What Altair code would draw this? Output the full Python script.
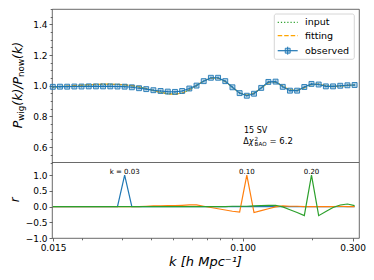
import altair as alt
import pandas as pd

# ---- data ----
k = [0.01497, 0.01608, 0.01728, 0.01857, 0.01995, 0.02144, 0.02304, 0.02475, 0.02660, 0.02858,
     0.03071, 0.03300, 0.03546, 0.03810, 0.04094, 0.04399, 0.04727, 0.05079, 0.05458, 0.05864,
     0.06301, 0.06771, 0.07275, 0.07817, 0.08400, 0.09026, 0.09698, 0.10421, 0.11197, 0.12032,
     0.12928, 0.13892, 0.14927, 0.16039, 0.17234, 0.18518, 0.19898, 0.21380, 0.22973, 0.24685,
     0.26525, 0.28501, 0.30624]

observed = [0.993, 0.994, 0.994, 0.995, 0.995, 0.996, 0.996, 0.996, 0.996, 0.995,
            0.994, 0.990, 0.984, 0.978, 0.971, 0.966, 0.962, 0.960, 0.966, 0.982,
            1.001, 1.030, 1.052, 1.052, 1.030, 0.990, 0.952, 0.935, 0.948, 0.986,
            1.025, 1.027, 0.993, 0.968, 0.968, 0.992, 1.012, 1.008, 0.996, 0.996,
            1.000, 1.003, 1.005]

fitting = [0.992, 0.995, 0.998, 1.001, 1.004, 1.007, 1.009, 1.010, 1.010, 1.009,
           1.006, 1.001, 0.993, 0.982, 0.969, 0.957, 0.948, 0.945, 0.952, 0.972,
           1.002, 1.031, 1.050, 1.050, 1.028, 0.990, 0.953, 0.937, 0.950, 0.985,
           1.020, 1.025, 0.998, 0.972, 0.968, 0.988, 1.008, 1.010, 1.000, 0.994,
           0.998, 1.003, 1.005]

input_ = [0.991, 0.994, 0.997, 1.000, 1.003, 1.006, 1.008, 1.009, 1.009, 1.008,
          1.005, 1.000, 0.992, 0.981, 0.968, 0.956, 0.948, 0.946, 0.953, 0.973,
          1.002, 1.030, 1.049, 1.049, 1.027, 0.990, 0.954, 0.938, 0.951, 0.985,
          1.019, 1.024, 0.998, 0.973, 0.969, 0.988, 1.007, 1.009, 1.000, 0.995,
          0.998, 1.002, 1.004]

err = [0.007, 0.007, 0.007, 0.007, 0.007, 0.007, 0.007, 0.007, 0.007, 0.007,
       0.007, 0.007, 0.007, 0.007, 0.007, 0.007, 0.007, 0.007, 0.007, 0.007,
       0.007, 0.007, 0.007, 0.007, 0.007, 0.007, 0.007, 0.007, 0.007, 0.007,
       0.007, 0.007, 0.007, 0.007, 0.007, 0.007, 0.007, 0.007, 0.007, 0.007,
       0.007, 0.007, 0.007]

r_003 = [0.0, 0.0, 0.0, 0.0, 0.0, 0.0, 0.0, 0.0, 0.0, 0.0,
         1.0, 0.0, 0.0, 0.0, 0.0, 0.0, 0.0, 0.0, 0.0, 0.0,
         0.0, 0.0, 0.0, 0.0, 0.0, 0.0, 0.0, 0.0, 0.0, 0.0,
         0.0, 0.0, 0.0, 0.0, 0.0, 0.0, 0.0, 0.0, 0.0, 0.0,
         0.0, 0.0, 0.0]

r_010 = [0.0, 0.0, 0.0, 0.0, 0.0, 0.0, 0.0, 0.0, 0.0, 0.0,
         0.0, 0.0, 0.0, 0.01, 0.02, 0.02, 0.03, 0.03, 0.04, 0.05,
         0.05, 0.01, -0.03, -0.07, -0.11, -0.15, -0.18, 1.0, -0.19, -0.13,
         -0.07, -0.01, 0.02, 0.01, 0.01, 0.0, 0.0, 0.0, 0.0, 0.0,
         0.01, 0.0, 0.0]

r_020 = [0.0, 0.0, 0.0, 0.0, 0.0, 0.0, 0.0, 0.0, 0.0, 0.0,
         0.0, 0.0, 0.0, 0.0, 0.0, 0.0, 0.0, 0.0, 0.0, 0.0,
         0.0, 0.0, 0.0, 0.0, 0.0, 0.01, 0.01, 0.01, 0.02, 0.03,
         0.04, 0.04, -0.01, -0.10, -0.19, -0.29, 1.0, -0.29, -0.16, -0.03,
         0.05, 0.08, 0.03]

ann_k = [0.0307, 0.1042, 0.1990]
ann_r = [1.03, 1.03, 1.03]
ann_text = ["k = 0.03", "0.10", "0.20"]

x_major = [0.015, 0.1, 0.3]
x_minor = [0.02, 0.03, 0.04, 0.05, 0.06, 0.07, 0.08, 0.09, 0.2]
ytop_major = [0.6, 0.8, 1.0, 1.2, 1.4]
ytop_minor = [0.5, 0.55, 0.65, 0.7, 0.75, 0.85, 0.9, 0.95, 1.05, 1.1, 1.15, 1.25, 1.3, 1.35, 1.45, 1.5]
ybot_major = [-1.0, -0.5, 0.0, 0.5, 1.0]

df = pd.DataFrame({"k": k, "obs": observed, "fit": fitting, "inp": input_, "err": err,
                   "r03": r_003, "r10": r_010, "r20": r_020})
df["lo"] = df["obs"] - df["err"]
df["hi"] = df["obs"] + df["err"]
ann = pd.DataFrame({"k": ann_k, "r": ann_r, "t": ann_text})
one = pd.DataFrame({"d": [0]})

W, H = 307, 229
SPLIT = 153.5
FONT = "DejaVu Sans"
BLUE, ORANGE, GREEN = "#1f77b4", "#ff7f0e", "#2ca02c"

xs = alt.Scale(type="log", domain=[0.01485, 0.32], nice=False)
X0 = alt.X("k:Q", scale=xs, axis=None)
ytop = alt.Scale(domain=[0.5, 1.5], range=[SPLIT, 0], nice=False, zero=False)
ybot = alt.Scale(domain=[-1.0, 1.4], range=[H, SPLIT], nice=False, zero=False)

base = alt.Chart(df)

# ---- top panel ----
inp_line = base.mark_line(color=GREEN, strokeWidth=1.2, strokeDash=[1.2, 2]).encode(
    x=X0,
    y=alt.Y("inp:Q", scale=ytop, title=None,
            axis=alt.Axis(orient="left", values=ytop_major, format=".1f", tickSize=3,
                          labelPadding=2, labelFontSize=9, labelOverlap=False,
                          domain=False, grid=False, title=None)))
fit_line = base.mark_line(color="#FFA500", strokeWidth=1.2, strokeDash=[4.5, 2]).encode(
    x=X0,
    y=alt.Y("fit:Q", scale=ytop, title=None,
            axis=alt.Axis(orient="left", values=ytop_minor, labels=False, tickSize=1.8,
                          domain=False, grid=False, title=None)))
err_rule = base.mark_rule(color=BLUE, strokeWidth=0.8).encode(
    x=X0, y=alt.Y("lo:Q", scale=ytop, axis=None), y2="hi:Q")
obs_line = base.mark_line(color=BLUE, strokeWidth=1.1).encode(
    x=X0, y=alt.Y("obs:Q", scale=ytop, axis=None))
obs_pts = base.mark_point(shape="square", size=24, filled=True, fill=BLUE, fillOpacity=0.3,
                          stroke=BLUE, strokeWidth=0.9, opacity=1).encode(
    x=X0, y=alt.Y("obs:Q", scale=ytop, axis=None))

top = alt.layer(inp_line, fit_line, err_rule, obs_line, obs_pts).resolve_axis(
    x="independent", y="independent")

# ---- bottom panel ----
b_blue = base.mark_line(color=BLUE, strokeWidth=1.2).encode(
    x=alt.X("k:Q", scale=xs, title=None,
            axis=alt.Axis(orient="bottom", values=x_major, format=".3f", tickSize=3,
                          labelPadding=2, labelFontSize=9, labelFlush=False,
                          labelOverlap=False, domain=False, grid=False, title=None)),
    y=alt.Y("r03:Q", scale=ybot, title=None,
            axis=alt.Axis(orient="left", values=ybot_major, tickSize=3, labelPadding=2,
                          labelFontSize=9, labelOverlap=False,
                          labelExpr="replace(format(datum.value, '.1f'), '-', '\u2212')",
                          domain=False, grid=False, title=None)))
b_orange = base.mark_line(color=ORANGE, strokeWidth=1.2).encode(
    x=alt.X("k:Q", scale=xs, title=None,
            axis=alt.Axis(orient="bottom", values=x_minor, labels=False, tickSize=1.8,
                          domain=False, grid=False, title=None)),
    y=alt.Y("r10:Q", scale=ybot, axis=None))
b_green = base.mark_line(color=GREEN, strokeWidth=1.2).encode(
    x=X0, y=alt.Y("r20:Q", scale=ybot, axis=None))
b_text = alt.Chart(ann).mark_text(font=FONT, fontSize=7, baseline="alphabetic",
                                  align="center", color="black").encode(
    x=alt.X("k:Q", scale=xs, axis=None), y=alt.Y("r:Q", scale=ybot, axis=None), text="t:N")

bottom = alt.layer(b_blue, b_orange, b_green, b_text).resolve_axis(
    x="independent", y="independent")


# ---- decorations (labels, legend, divider) ----
def txt(s, x, y, size, **kw):
    return alt.Chart(one).mark_text(font=FONT, fontSize=size, color="black", **kw).encode(
        x=alt.value(x), y=alt.value(y), text=alt.value(s))


divider = alt.Chart(one).mark_rule(color="#444", strokeWidth=0.8).encode(
    x=alt.value(0), x2=alt.value(W), y=alt.value(SPLIT))

# y label of top panel: P_wig(k)/P_now(k), rotated
yl = [
    txt("P", -30.3, 119.3, 12.5, angle=270, align="left", baseline="alphabetic", fontStyle="italic"),
    txt("wig", -27.6, 111.8, 8.75, angle=270, align="left", baseline="alphabetic"),
    txt("(k)/", -30.3, 96.7, 12.5, angle=270, align="left", baseline="alphabetic", fontStyle="italic"),
    txt("P", -30.3, 75.5, 12.5, angle=270, align="left", baseline="alphabetic", fontStyle="italic"),
    txt("now", -27.6, 68.0, 8.75, angle=270, align="left", baseline="alphabetic"),
    txt("(k)", -30.3, 49.9, 12.5, angle=270, align="left", baseline="alphabetic", fontStyle="italic"),
]
rl = txt("r", -33.5, 190.7, 12, angle=270, align="center", baseline="alphabetic", fontStyle="italic")
xl = txt("k [h Mpc\u207b\u00b9]", W / 2, 256.5, 13, align="center", baseline="alphabetic",
         fontStyle="italic")

# annotation
a1 = txt("15 SV", 192, 124.3, 8, align="left", baseline="alphabetic")
a2 = txt("\u0394", 191.3, 135.3, 8, align="left", baseline="alphabetic")
a3 = txt("\u03c7", 196.8, 135.3, 8, align="left", baseline="alphabetic", fontStyle="italic")
a4 = txt("2", 202.6, 131.5, 5.6, align="left", baseline="alphabetic")
a5 = txt("BAO", 202.6, 137.0, 5.6, align="left", baseline="alphabetic")
a6 = txt("= 6.2", 217.5, 135.3, 8.5, align="left", baseline="alphabetic")

# legend
leg_box = alt.Chart(one).mark_rect(fill="white", fillOpacity=0.8, stroke="#cccccc",
                                   strokeWidth=0.8, cornerRadius=2).encode(
    x=alt.value(222.3), x2=alt.value(302.3), y=alt.value(5), y2=alt.value(50.3))
hx1, hx2, hxc = 225.7, 245.7, 235.7
rows = [13.3, 26.7, 41.7]
leg_inp = alt.Chart(one).mark_rule(color=GREEN, strokeWidth=1.2, strokeDash=[1.2, 2]).encode(
    x=alt.value(hx1), x2=alt.value(hx2), y=alt.value(rows[0]))
leg_fit = alt.Chart(one).mark_rule(color="#FFA500", strokeWidth=1.2, strokeDash=[4.5, 2]).encode(
    x=alt.value(hx1), x2=alt.value(hx2), y=alt.value(rows[1]))
leg_obs = alt.Chart(one).mark_rule(color=BLUE, strokeWidth=1.2).encode(
    x=alt.value(hx1), x2=alt.value(hx2), y=alt.value(rows[2]))
leg_obs_err = alt.Chart(one).mark_rule(color=BLUE, strokeWidth=1).encode(
    x=alt.value(hxc), y=alt.value(rows[2] - 4), y2=alt.value(rows[2] + 4))
leg_obs_pt = alt.Chart(one).mark_point(shape="square", size=24, filled=True, fill=BLUE,
                                       fillOpacity=0.3, stroke=BLUE, strokeWidth=0.9,
                                       opacity=1).encode(
    x=alt.value(hxc), y=alt.value(rows[2]))
leg_t = [txt(s, 253, yy, 9.5, align="left", baseline="middle")
         for s, yy in zip(["input", "fitting", "observed"], rows)]

chart = alt.layer(
    top, bottom, divider, *yl, rl, xl, a1, a2, a3, a4, a5, a6,
    leg_box, leg_inp, leg_fit, leg_obs, leg_obs_err, leg_obs_pt, *leg_t
).resolve_scale(y="independent").resolve_axis(x="independent", y="independent").properties(
    width=W, height=H,
    autosize=alt.AutoSizeParams(type="none"),
    padding={"left": 44, "top": 1, "right": 7, "bottom": 34},
).configure_view(stroke="#444", strokeWidth=0.8).configure_axis(
    labelFont=FONT, labelColor="black", tickColor="#444", tickWidth=0.8
).configure_text(font=FONT)

chart.save("out.html", embed_options={"renderer": "svg", "actions": False})
